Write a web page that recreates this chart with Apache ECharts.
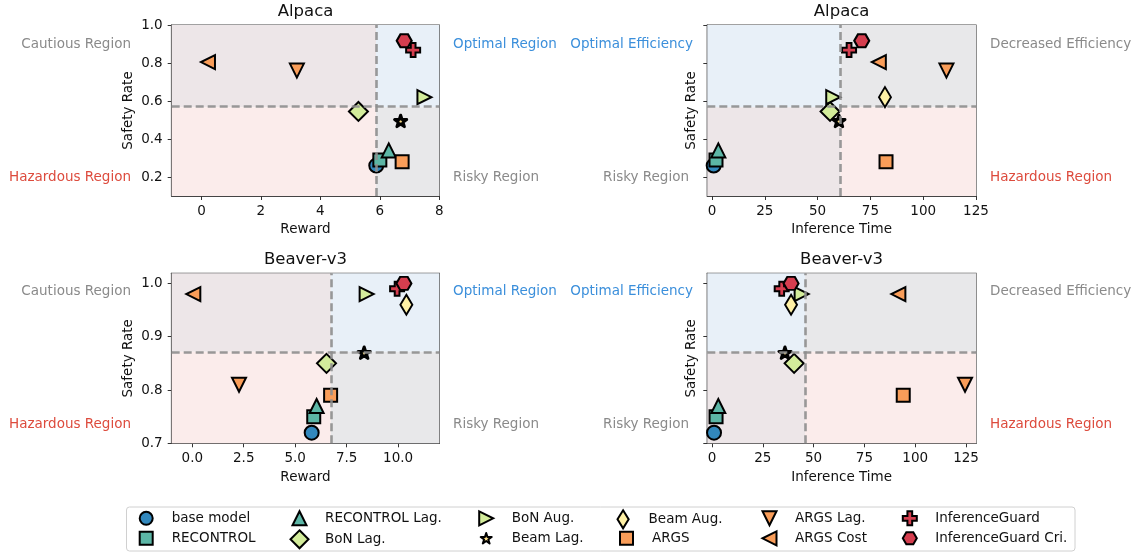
<!DOCTYPE html>
<html>
<head>
<meta charset="utf-8">
<script src="https://cdn.jsdelivr.net/npm/echarts@6/dist/echarts.min.js"></script>
<style>html,body{margin:0;padding:0;background:#fff;}#c{width:1141px;height:555px;}</style>
</head>
<body>
<div id="c"></div>
<script>
// ---------------- DATA ----------------
const methods = ['base model','RECONTROL','RECONTROL Lag.','BoN Lag.','BoN Aug.','Beam Lag.','Beam Aug.','ARGS','ARGS Lag.','ARGS Cost','InferenceGuard','InferenceGuard Cri.'];
const alpacaReward = [5.88, 6.0, 6.3, 5.28, 7.5, 6.7, 8.66, 6.75, 3.21, 0.22, 7.12, 6.82];
const alpacaTime   = [0.8, 1.9, 3.0, 55.9, 57.4, 60.1, 81.9, 82.4, 111.0, 79.0, 64.9, 70.9];
const alpacaSafety = [0.26, 0.29, 0.34, 0.545, 0.62, 0.495, 0.62, 0.28, 0.76, 0.805, 0.868, 0.917];
const beaverReward = [5.8, 5.9, 6.04, 6.52, 8.47, 8.35, 10.4, 6.72, 2.27, 0.05, 9.95, 10.28];
const beaverTime   = [1.0, 2.0, 3.1, 40.4, 44.1, 35.9, 38.9, 94.1, 124.5, 91.7, 34.3, 38.9];
const beaverSafety = [0.72, 0.75, 0.77, 0.85, 0.98, 0.87, 0.96, 0.79, 0.81, 0.98, 0.99, 1.0];
// thresholds (dashed lines): [x threshold, y threshold] per panel
const alpacaRewardThr = [5.87, 0.567];
const alpacaTimeThr   = [60.9, 0.567];
const beaverRewardThr = [6.73, 0.872];
const beaverTimeThr   = [45.8, 0.872];
// tick labels
const rewardTicksAlpaca = [0, 2, 4, 6, 8];
const rewardTicksBeaver = [0, 2.5, 5, 7.5, 10];
const timeTicks = [0, 25, 50, 75, 100, 125];
const safetyTicksAlpaca = [0.2, 0.4, 0.6, 0.8, 1.0];
const safetyTicksBeaver = [0.7, 0.8, 0.9, 1.0];
const panelTitles = ['Alpaca', 'Alpaca', 'Beaver-v3', 'Beaver-v3'];

// ---------------- STYLES ----------------
const P = {
  right: 'path://M-1,-1L1,0L-1,1Z',
  down: 'path://M-1,-1L1,-1L0,1Z',
  left: 'path://M1,-1L-1,0L1,1Z',
  thinDiamond: 'path://M0,-1L0.62,0L0,1L-0.62,0Z',
  star: 'path://M0,-1L0.2245,-0.309L0.951,-0.309L0.363,0.118L0.588,0.809L0,0.382L-0.588,0.809L-0.363,0.118L-0.951,-0.309L-0.2245,-0.309Z',
  plus: 'path://M-0.34,-1L0.34,-1L0.34,-0.34L1,-0.34L1,0.34L0.34,0.34L0.34,1L-0.34,1L-0.34,0.34L-1,0.34L-1,-0.34L-0.34,-0.34Z',
  hex: 'path://M-1,0L-0.5,-0.866L0.5,-0.866L1,0L0.5,0.866L-0.5,0.866Z'
};
const teal = '#5cb6a6', lgreen = '#d3ec9b', orange = '#f99d59', red = '#d53e4f';
const mstyle = [
  {symbol:'circle', size:14, color:'#3288bd', bw:2, leg:13},
  {symbol:'rect', size:13, color:teal, bw:2, leg:13},
  {symbol:'triangle', size:14, color:teal, bw:2, leg:14},
  {symbol:'diamond', size:19, color:lgreen, bw:2, leg:18},
  {symbol:P.right, size:14, color:lgreen, bw:2, leg:14},
  {symbol:P.star, size:[12,11.5], color:'#fee08b', bw:3, leg:11, join:'round'},
  {symbol:P.thinDiamond, size:[12,20], color:'#fff1a6', bw:2, leg:18},
  {symbol:'rect', size:13, color:orange, bw:2, leg:13},
  {symbol:P.down, size:14, color:orange, bw:2, leg:14},
  {symbol:P.left, size:14, color:orange, bw:2, leg:14},
  {symbol:P.plus, size:14, color:red, bw:2, leg:14},
  {symbol:P.hex, size:[15,13], color:red, bw:2, leg:14}
];
const FONT = 'DejaVu Sans';
const GRIDS = [
  {left:171.7, top:25, width:267.6, height:171},
  {left:707.3, top:25, width:268.7, height:171},
  {left:171.7, top:273.3, width:267.6, height:170},
  {left:707.3, top:273.3, width:268.7, height:170}
];
const xLims = [[-1, 8], [-2.22, 125], [-1, 12], [-2.31, 129.9]];
const yLims = [[0.1, 1.0], [0.1, 1.0], [0.7, 1.019], [0.7, 1.019]];
const xTicks = [rewardTicksAlpaca, timeTicks, rewardTicksBeaver, timeTicks];
const yTicks = [safetyTicksAlpaca, safetyTicksAlpaca, safetyTicksBeaver, safetyTicksBeaver];
const xNames = ['Reward', 'Inference Time', 'Reward', 'Inference Time'];
const xFmt = [v => String(v), v => String(v), v => v.toFixed(1), v => String(v)];
const panelX = [alpacaReward, alpacaTime, beaverReward, beaverTime];
const panelY = [alpacaSafety, alpacaSafety, beaverSafety, beaverSafety];
const panelThr = [alpacaRewardThr, alpacaTimeThr, beaverRewardThr, beaverTimeThr];
const C_BLUE = '#e8f0f8', C_GRAY = '#e8e8ea', C_PINK = '#fbeceb', C_GP = '#ede6e8';
// quadrant colours: [UL, UR, LL, LR]
const quadColors = [
  [C_GP, C_BLUE, C_PINK, C_GRAY],
  [C_BLUE, C_GRAY, C_GP, C_PINK],
  [C_GP, C_BLUE, C_PINK, C_GRAY],
  [C_BLUE, C_GRAY, C_GP, C_PINK]
];

const xAxis = [], yAxis = [], series = [];
for (let g = 0; g < 4; g++) {
  xAxis.push({
    type:'value', gridIndex:g, min:xLims[g][0], max:xLims[g][1],
    name:xNames[g], nameLocation:'middle', nameGap:g<2?26:27,
    nameTextStyle:{fontFamily:FONT, fontSize:13.5, color:'#111'},
    splitLine:{show:false},
    axisLine:{show:true, onZero:false, lineStyle:{color:'#444', width:1.2}},
    axisTick:{show:true, length:4, customValues:xTicks[g], lineStyle:{color:'#333'}},
    axisLabel:{customValues:xTicks[g], formatter:xFmt[g], margin:8, fontFamily:FONT, fontSize:13.5, color:'#111'}
  });
  yAxis.push({
    type:'value', gridIndex:g, min:yLims[g][0], max:yLims[g][1],
    name:'Safety Rate', nameLocation:'middle', nameGap:(g%2===0)?36:9,
    nameTextStyle:{fontFamily:FONT, fontSize:13.5, color:'#111'},
    splitLine:{show:false},
    axisLine:{show:true, onZero:false, lineStyle:{color:'#444', width:1.2}},
    axisTick:{show:true, length:4, customValues:yTicks[g], lineStyle:{color:'#333'}},
    axisLabel:{show:g%2===0, customValues:yTicks[g], formatter:v => v.toFixed(1), margin:9, fontFamily:FONT, fontSize:13.5, color:'#111'}
  });
  const [xmin, xmax] = xLims[g], [ymin, ymax] = yLims[g], [tx, ty] = panelThr[g], qc = quadColors[g];
  series.push({
    type:'scatter', name:'_bg' + g, xAxisIndex:g, yAxisIndex:g, data:[], z:1, silent:true,
    markArea:{silent:true, data:[
      [{xAxis:xmin, yAxis:ty, itemStyle:{color:qc[0]}}, {xAxis:tx, yAxis:ymax}],
      [{xAxis:tx, yAxis:ty, itemStyle:{color:qc[1]}}, {xAxis:xmax, yAxis:ymax}],
      [{xAxis:xmin, yAxis:ymin, itemStyle:{color:qc[2]}}, {xAxis:tx, yAxis:ty}],
      [{xAxis:tx, yAxis:ymin, itemStyle:{color:qc[3]}}, {xAxis:xmax, yAxis:ty}]
    ]},
    markLine:{silent:true, symbol:'none', label:{show:false},
      lineStyle:{color:'#8e8e8e', width:2.6, type:[8,4], opacity:0.9},
      data:[{xAxis:tx}, {yAxis:ty}]}
  });
  for (let m = 0; m < methods.length; m++) {
    const s = mstyle[m];
    series.push({
      type:'scatter', name:methods[m], xAxisIndex:g, yAxisIndex:g, z:3, clip:true,
      symbol:s.symbol, symbolSize:s.size,
      itemStyle:{color:s.color, borderColor:'#000', borderWidth:s.bw, borderJoin:s.join || 'miter', opacity:1},
      emphasis:{disabled:true},
      data:[[panelX[g][m], panelY[g][m]]]
    });
  }
}

// legend: 12 single-item legends, 6 columns x 2 rows (column-major)
const legTextX = [170.7, 324, 510.7, 651, 794, 934.3];
const legRowY = [518.3, 538.3];
const legend = methods.map((name, i) => {
  const col = Math.floor(i / 2), row = i % 2;
  const sz = mstyle[i].leg;
  const cx = legTextX[col] - 25.5;
  const h = Math.max(18, sz);
  return {
    data:[name], left:cx - sz / 2, top:legRowY[row] - h / 2, padding:0,
    itemWidth:sz, itemHeight:sz, selectedMode:false,
    itemStyle:{borderJoin:mstyle[i].join || 'miter'},
    textStyle:{fontFamily:FONT, fontSize:13.5, color:'#111', height:18, lineHeight:18,
      padding:[0,0,0, legTextX[col] - (cx - sz / 2) - sz - 5]}
  };
});

function txt(x, y, text, color, align, size) {
  return {type:'text', x:x, y:y, silent:true,
    style:{text:text, fill:color, font:(size||13.5) + 'px "DejaVu Sans"', textAlign:align, textVerticalAlign:'middle'}};
}
const GRAYT = '#8a8a8a', REDT = '#dd4b3d', BLUET = '#3b8fdb';
const graphic = [
  txt(305.5, 12, panelTitles[0], '#111', 'center', 16.5),
  txt(841.6, 12, panelTitles[1], '#111', 'center', 16.5),
  txt(305.5, 260, panelTitles[2], '#111', 'center', 16.5),
  txt(841.6, 260, panelTitles[3], '#111', 'center', 16.5),
  // top-left
  txt(131, 44, 'Cautious Region', GRAYT, 'right'),
  txt(131, 177, 'Hazardous Region', REDT, 'right'),
  txt(453, 44, 'Optimal Region', BLUET, 'left'),
  txt(453, 177, 'Risky Region', GRAYT, 'left'),
  // top-right
  txt(693, 44, 'Optimal Efficiency', BLUET, 'right'),
  txt(689, 177, 'Risky Region', GRAYT, 'right'),
  txt(990, 44, 'Decreased Efficiency', GRAYT, 'left'),
  txt(990, 177, 'Hazardous Region', REDT, 'left'),
  // bottom-left
  txt(131, 291, 'Cautious Region', GRAYT, 'right'),
  txt(131, 424, 'Hazardous Region', REDT, 'right'),
  txt(453, 291, 'Optimal Region', BLUET, 'left'),
  txt(453, 424, 'Risky Region', GRAYT, 'left'),
  // bottom-right
  txt(693, 291, 'Optimal Efficiency', BLUET, 'right'),
  txt(689, 424, 'Risky Region', GRAYT, 'right'),
  txt(990, 291, 'Decreased Efficiency', GRAYT, 'left'),
  txt(990, 424, 'Hazardous Region', REDT, 'left'),
  {type:'rect', z:-1, silent:true, shape:{x:126.5, y:507, width:948.5, height:44, r:3},
    style:{fill:'#fff', stroke:'#d0d0d0', lineWidth:1}}
];

const chart = echarts.init(document.getElementById('c'), null, {renderer:'canvas'});
chart.setOption({
  animation:false,
  backgroundColor:'#fff',
  grid:GRIDS.map(g => Object.assign({show:true, borderColor:'#444', borderWidth:1.2, backgroundColor:'transparent', containLabel:false}, g)),
  xAxis, yAxis, series, legend, graphic
});
</script>
</body>
</html>
